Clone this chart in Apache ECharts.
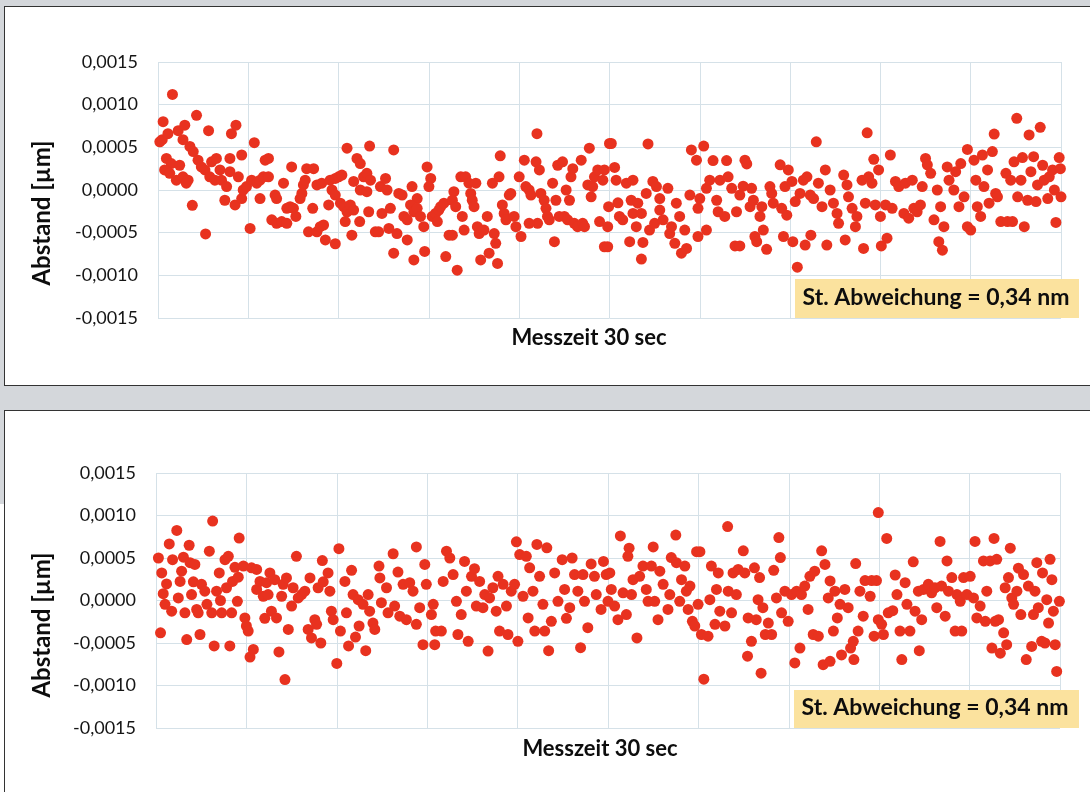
<!DOCTYPE html>
<html>
<head>
<meta charset="utf-8">
<script src="https://cdn.jsdelivr.net/npm/echarts@6/dist/echarts.min.js"></script>
<style>
  body { margin: 0; background: #d4d7db; }
  .panel { position: absolute; background: #fff; border: 1px solid #333; }
  #main { position: absolute; left: 0; top: 0; width: 1090px; height: 792px; }
</style>
</head>
<body>
<div class="panel" style="left:4px;top:6px;width:1100px;height:378px;"></div>
<div class="panel" style="left:4px;top:410px;width:1100px;height:400px;"></div>
<div style="position:absolute;left:0;top:504px;width:4px;height:288px;background:#fff;"></div>
<div id="main"></div>
<script>
// Messzeit (s), Abstand (µm) - oberes Diagramm
var topPoints = [
  [0.48,0.00112],[0.17,0.0008],[0.06,0.000565],[0.14,0.00059],[0.33,0.00066],[0.67,0.000695],[0.89,0.00076],[1.28,0.000875],[0.83,0.00059],[1.06,0.00051],
  [1.17,0.00045],[0.28,0.00037],[0.44,0.00031],[0.72,0.00029],[0.22,0.000235],[0.39,0.000195],[0.61,0.000115],[0.83,0.000155],[1.0,0.000115],[0.94,0.00008],
  [1.14,-0.00018],[1.58,-0.000515],[1.68,0.000695],[1.33,0.00035],[1.44,0.00027],[1.56,0.000235],[1.78,0.00033],[1.94,0.00037],[1.72,0.000155],[1.89,0.000115],
  [2.06,0.000235],[2.11,0.000115],[2.28,0.00004],[2.22,-0.00012],[2.39,0.00037],[2.44,0.00066],[2.59,0.00076],[2.78,0.00041],[2.39,0.000215],[2.67,0.000155],
  [2.56,-0.000175],[2.78,-0.0001],[2.83,0],[2.94,0.00004],[3.06,-0.00045],[3.2,0.000555],[3.11,0.000115],[3.28,0.00008],[3.39,0.000115],[3.56,0.00035],
  [3.67,0.00037],[3.5,0.000155],[3.67,0.000155],[3.39,-0.0001],[3.89,-0.00006],[3.94,-0.0001],[4.17,0.00008],[3.78,-0.00035],[3.94,-0.00039],[4.11,-0.00037],
  [4.28,-0.00039],[4.28,-0.000215],[4.39,-0.000195],[4.5,-0.000215],[4.44,0.00027],[4.58,-0.00031],[4.94,0.00025],[5.17,0.00025],[4.83,0.00006],[4.89,0.000115],
  [4.78,-0.00004],[4.72,-0.0001],[5.14,-0.000215],[5.0,-0.00049],[5.28,-0.00049],[5.39,-0.00043],[5.5,-0.00041],[5.56,-0.000585],[5.28,0.00006],[5.44,0.00008],
  [5.67,-0.000175],[5.72,0.000115],[5.89,0.000135],[6.0,0.000155],[6.11,0.000175],[5.78,0],[5.89,-0.00006],[6.06,-0.000155],[6.17,-0.000195],[6.28,-0.000255],
  [6.39,-0.000175],[6.5,-0.000235],[6.22,-0.00037],[6.44,-0.00053],[5.89,-0.00063],[6.28,0.00049],[6.5,0.0001],[6.61,0.00037],[6.72,0.00031],[6.83,0.000155],
  [6.94,0.000195],[7.06,0.000115],[6.72,0],[6.94,-0.00002],[7.03,0.000515],[7.0,-0.000255],[6.7,-0.00037],[7.22,-0.00049],[7.33,-0.00049],[7.44,-0.000275],
  [7.39,0.00004],[7.56,0.000135],[7.61,0],[7.83,0.00047],[7.72,-0.000215],[7.67,-0.00045],[7.94,-0.00051],[7.83,-0.00074],[8.0,-0.00004],[8.11,-0.00006],
  [8.28,-0.000585],[8.44,0.00004],[8.5,-0.00082],[8.61,-0.0001],[8.39,-0.000175],[8.5,-0.000255],[8.61,-0.000215],[8.72,-0.00031],[8.17,-0.00031],[8.28,-0.00035],
  [8.83,-0.00043],[8.86,-0.00072],[8.94,0.00027],[9.06,0.000135],[9.0,0.00004],[9.11,-0.00031],[9.22,-0.000275],[9.33,-0.000235],[9.39,-0.000195],[9.5,-0.000155],
  [9.28,-0.00037],[9.56,-0.00078],[9.67,-0.00053],[9.78,-0.00053],[9.83,-0.00002],[9.78,-0.00012],[9.89,-0.000195],[9.94,-0.00094],[10.06,0.000155],[10.22,0.000155],
  [10.11,-0.00031],[10.17,-0.00047],[10.33,0.00008],[10.39,-0.00004],[10.44,-0.00012],[10.5,-0.000195],[10.56,0.00008],[10.61,-0.00043],[10.67,-0.00051],[10.72,-0.00082],
  [10.83,-0.00047],[10.94,-0.00031],[11.0,-0.00074],[11.11,0.00008],[11.17,-0.00051],[11.22,-0.000625],[11.28,-0.00086],[11.33,0.000155],[11.37,0.0004],[11.44,-0.000175],
  [11.5,-0.000275],[11.56,-0.00035],[11.67,-0.00006],[11.72,-0.00004],[11.83,-0.00031],[11.89,-0.00043],[12.0,0.000155],[12.06,-0.000545],[12.17,0.00035],[12.22,0.00004],
  [12.33,0],[12.39,-0.00006],[12.56,0.00033],[12.59,0.00066],[12.67,0.000235],[12.72,-0.00004],[12.83,-0.00012],[12.89,-0.000215],[12.94,-0.00031],[13.0,-0.00035],
  [12.61,-0.00039],[12.33,-0.00039],[13.11,0.00008],[13.17,-0.000605],[13.22,-0.00012],[13.28,0.00029],[13.44,0.00033],[13.33,-0.00031],[13.5,-0.00031],[13.56,0],
  [13.61,-0.00035],[13.67,-0.00012],[13.72,0.000155],[13.78,0.00025],[13.83,-0.00039],[13.94,-0.00043],[14.06,0.00035],[14.11,-0.00039],[14.17,-0.00043],[14.28,0.00006],
  [14.33,0.00049],[14.39,-0.00008],[14.44,0.00004],[14.5,0.000155],[14.61,0.000235],[14.67,-0.00037],[14.78,0.000115],[14.83,0.000235],[14.83,-0.000665],[14.94,-0.000665],
  [14.97,-0.000195],[15.0,0.000545],[14.94,-0.00043],
  [15.06,0.000545],[15.17,0.000265],[15.22,0.000115],[15.28,-0.00015],[15.33,-0.00031],[15.44,-0.00035],[15.56,0.00008],[15.78,0.000115],[15.67,-0.000605],[15.72,-0.00012],
  [15.78,-0.000275],[15.89,-0.00043],[15.94,-0.000155],[16.06,-0.000275],[16.06,-0.00081],[16.11,-0.000615],[16.28,0.00054],[16.22,-0.00004],[16.33,-0.00047],[16.44,0.0001],
  [16.5,-0.00039],[16.56,0.00004],[16.67,-0.0001],[16.67,-0.000235],[16.78,-0.00035],[16.94,0.00002],[17.0,-0.00051],[17.06,-0.00043],[17.17,-0.000625],[17.22,-0.000155],
  [17.33,-0.00031],[17.39,-0.00074],[17.5,-0.00047],[17.56,-0.000685],[17.67,-0.00006],[17.72,0.00047],[17.89,0.00035],[18.13,0.000515],[17.94,-0.000215],[17.94,-0.000545],
  [18.0,-0.0001],[18.22,-0.00047],[18.22,0.00002],[18.33,0.000115],[18.44,0.000345],[18.56,-0.00012],[18.61,-0.000255],[18.67,0.000115],[18.83,-0.00031],[18.89,0.000345],
  [18.94,0.000155],[19.06,0.00002],[19.17,-0.000655],[19.33,-0.000655],[19.22,-0.000255],[19.33,-0.00006],[19.44,0.000045],[19.5,0.00035],[19.56,0.000305],[19.67,-0.000195],
  [19.72,0.00002],[19.78,-0.00012],[19.83,-0.000545],[19.89,-0.000605],[20.0,-0.00031],[20.06,-0.000195],[20.11,-0.00047],[20.22,-0.000695],[20.33,0.00004],[20.39,-0.00004],
  [20.44,-0.000155],[20.67,0.000295],[20.72,-0.000215],[20.78,-0.000545],[20.83,0.00004],[20.89,-0.000295],[20.94,0.000235],[21.06,0.0001],[21.09,-0.000605],[21.17,-0.000135],
  [21.24,-0.000905],[21.33,-0.00004],[21.44,0.000115],[21.5,-0.000645],[21.56,0.000155],[21.67,-0.00006],[21.69,-0.00053],[21.78,-0.0001],[21.87,0.000565],[21.94,0.00008],
  [22.06,-0.000195],[22.17,0.000235],[22.22,-0.000645],[22.33,0],[22.44,-0.000155],[22.56,-0.000275],[22.61,-0.00039],[22.78,0.000175],[22.83,-0.000585],[22.89,0.00006],
  [22.94,-0.00008],[23.06,-0.000215],[23.17,-0.00043],[23.22,-0.00031],[23.39,0.000115],[23.44,-0.000685],[23.5,-0.000155],[23.56,0.00067],[23.61,0.000155],[23.72,0.00008],
  [23.78,0.00036],[23.83,-0.000175],[23.94,0.000235],[24.0,-0.00031],[24.03,-0.000655],[24.17,-0.000175],[24.22,-0.000565],[24.33,0.00041],[24.39,-0.000215],[24.5,0.0001],
  [24.61,0.00004],[24.78,-0.000275],[24.83,0.00008],[24.94,-0.00033],[25.06,0.000115],[25.11,-0.000215],[25.22,-0.000255],[25.33,-0.000175],[25.39,0.00004],[25.5,0.00037],
  [25.56,0.000295],[25.67,0.000195],[25.78,-0.00035],[25.89,0],[25.94,-0.000605],[26.06,-0.000705],[26.0,-0.000195],[26.11,-0.00043],[26.22,0.00027],[26.28,0.000115],
  [26.44,0],[26.5,0.000215],[26.61,-0.000195],[26.67,0.00031],[26.78,-0.00008],[26.89,0.000475],[26.89,-0.00043],[27.0,-0.00047],[27.11,0.00035],[27.17,0.000115],
  [27.22,-0.000195],[27.33,-0.00031],[27.39,0.00041],[27.44,0.00004],[27.56,0.000235],[27.61,-0.000155],[27.72,0.00045],[27.78,0.000655],[27.83,-0.00004],[27.89,-0.00008],
  [28.0,-0.00037],[28.17,0.000195],[28.22,-0.00037],[28.33,0.000115],[28.39,-0.00037],[28.44,0.00033],[28.53,0.00084],[28.56,-0.00008],[28.67,0.000115],[28.72,0.00038],
  [28.78,-0.00043],[28.89,-0.00012],[28.94,0.000645],[29.0,0.000215],[29.09,0.00039],[29.17,-0.000135],[29.22,0.00006],[29.31,0.000735],[29.39,0.00029],[29.44,0.000115],
  [29.56,-0.0001],[29.61,0.000155],[29.72,0.000235],[29.78,0],[29.83,-0.00038],[29.94,0.00038],[29.98,0.00025],[30.0,-0.00008]
];

// Messzeit (s), Abstand (µm) - unteres Diagramm
var bottomPoints = [
  [0.08,0.0005],[0.19,0.000325],[0.35,0.000195],[0.24,0.00008],[0.3,-0.000045],[0.15,-0.00038],[0.44,0.000665],[0.55,0.00048],[0.69,0.000825],[0.74,0.00003],
  [0.8,0.000225],[0.85,0.000345],[0.91,0.00051],[0.52,-0.000125],[0.96,-0.000145],[1.02,-0.00046],[1.1,0.00065],[1.13,0.000445],[1.18,0.00007],[1.24,0.00022],
  [1.29,0.000425],[1.35,-0.000105],[1.46,-0.0004],[1.4,-0.000145],[1.51,0.00019],[1.62,0.00011],[1.69,-0.000045],[1.77,0.00058],[1.85,-0.000145],[1.88,0.000935],
  [1.93,-0.000535],[2.01,0.00011],[2.1,0.000325],[2.14,0],[2.18,-0.000145],[2.29,0.00048],[2.4,0.00052],[2.34,0.00015],[2.45,-0.000535],[2.51,-0.000145],
  [2.54,0.000225],[2.62,0.00039],[2.7,-0.00001],[2.73,0.000275],[2.76,0.000735],[2.9,0.000405],[2.95,-0.000205],[3.0,-0.0003],[3.06,-0.00036],[3.12,-0.000665],
  [3.23,-0.000575],[3.17,0.000385],[3.34,0.000365],[3.34,0.00013],[3.45,0.000225],[3.56,0.00005],[3.61,-0.00021],[3.67,0.00021],[3.72,0.00007],[3.78,0.000325],
  [3.83,-0.000125],[3.94,0.000245],[4.0,-0.000205],[4.08,-0.000605],[4.17,0.00005],[4.22,0.00019],[4.28,-0.00093],[4.33,0.000265],[4.39,-0.00034],[4.5,-0.000065],
  [4.55,0.00015],[4.66,0.00052],[4.72,0.00003],[4.83,0.00007],[4.94,0.00011],[5.05,-0.00034],[5.11,0.000265],[5.16,-0.00044],[5.27,-0.000225],[5.33,-0.00028],
  [5.38,0.00015],[5.47,-0.0005],[5.52,0.00047],[5.55,0.00022],[5.71,0.000325],[5.77,0.00011],[5.82,-0.000125],[5.88,-0.000225],[6.0,-0.00074],[6.07,0.00061],
  [6.12,-0.00036],[6.27,0.000225],[6.32,-0.000145],[6.39,-0.000535],[6.49,0.000355],[6.54,0.00007],[6.62,-0.00043],[6.71,0.00001],[6.74,-0.0003],[6.87,-0.000045],
  [6.96,-0.00059],[7.04,0.00007],[7.09,-0.000125],[7.2,-0.000265],[7.26,-0.00034],[7.4,0.000405],[7.43,0.000265],[7.48,-0.000025],[7.65,0.00015],[7.7,-0.000145],
  [7.87,0.00055],[7.92,-0.000065],[8.03,0.000335],[8.09,-0.000185],[8.2,0.00019],[8.31,-0.000225],[8.42,0.00021],[8.53,0.00011],[8.64,0.00063],[8.64,-0.00028],
  [8.75,-0.000085],[8.86,-0.00052],[8.92,0.000425],[8.97,0.00019],[9.14,-0.000165],[9.2,-0.000045],[9.25,-0.00052],[9.28,-0.00036],[9.47,-0.00036],[9.53,0.000225],
  [9.64,0.00058],[9.75,0.0005],[9.86,0.000305],[9.97,-0.00001],[10.02,-0.0004],[10.13,-0.000165],[10.24,0.00046],[10.3,0.00011],[10.36,-0.00048],[10.47,0.000285],
  [10.57,0.000375],[10.63,-0.000065],[10.74,0.000225],[10.85,-0.000085],[10.91,0.00007],[11.02,-0.000595],[11.07,0.00003],[11.18,0.00015],[11.29,-0.000125],[11.35,0.000285],
  [11.4,-0.00036],[11.52,0.00019],[11.63,-0.000065],[11.68,-0.0004],[11.79,0.00011],[11.9,0.00019],[11.96,0.00069],[12.01,-0.00048],[12.07,0.00054],[12.18,0.00005],
  [12.29,0.00052],[12.35,-0.000205],[12.4,0.000385],[12.51,0.00011],[12.57,-0.00036],[12.64,0.00066],[12.73,0.000285],[12.84,-0.000045],[12.9,-0.00036],[12.97,0.00062],
  [13.03,-0.00059],[13.12,-0.000245],[13.23,0.000325],[13.34,-0.00001],[13.48,0.00048],[13.56,0.00013],[13.62,-0.00021],[13.73,-0.000085],[13.81,0.0005],[13.89,0.000305],
  [14.0,0.00011],[14.09,-0.000555],[14.17,0.000305],[14.22,-0.00001],[14.33,-0.00032],[14.44,0.00043],[14.55,0.000285],[14.61,0.00007],[14.77,-0.000105],[14.85,0.00046],
  [14.94,0.000305],[15.0,-0.00001],
  [15.11,0.00013],[15.06,0.000325],[15.22,-0.000065],[15.33,-0.000225],[15.41,0.00076],[15.5,0.00009],[15.61,-0.000165],[15.7,0.000615],[15.66,0.00052],[15.78,0.00007],
  [15.83,0.000245],[15.96,-0.00044],[16.05,0.000285],[16.16,0.000405],[16.27,0.00013],[16.33,-0.00001],[16.44,0.000405],[16.5,0.00063],[16.55,-0.00001],[16.66,-0.000225],
  [16.72,0.000345],[16.83,0.00019],[16.99,-0.000105],[17.05,0.00007],[17.1,0.000505],[17.25,0.00077],[17.27,0.000445],[17.38,-0.00001],[17.44,0.000245],[17.55,0.000405],
  [17.6,0.00011],[17.66,-0.000105],[17.72,0.00017],[17.8,-0.000245],[17.88,-0.0003],[17.94,0.000575],[18.05,0.000575],[17.99,-0.000045],[18.1,-0.0004],[18.18,-0.000925],
  [18.32,-0.00042],[18.38,0.00001],[18.43,0.000405],[18.55,-0.00028],[18.6,0.00013],[18.66,0.000325],[18.71,-0.000125],[18.88,-0.0003],[18.97,0.00087],[18.99,0.00011],
  [19.1,-0.000145],[19.15,0.000325],[19.26,0.00007],[19.32,0.000365],[19.49,0.000585],[19.54,0.000325],[19.63,-0.000655],[19.65,-0.000205],[19.76,-0.00048],[19.86,0.000385],
  [19.92,-0.000225],[19.98,0.00001],[20.03,0.00027],[20.08,-0.000855],[20.14,-0.000085],[20.22,-0.0004],[20.32,-0.000265],[20.43,-0.0004],[20.5,0.000355],[20.59,0.00003],
  [20.67,0.00074],[20.72,0.000505],[20.76,-0.000145],[20.87,0.00011],[20.98,-0.000245],[21.09,0.00007],[21.2,-0.000735],[21.26,0.00011],[21.37,-0.00056],[21.42,0.00007],
  [21.53,0.00017],[21.64,-0.000105],[21.7,0.000285],[21.81,-0.0004],[21.86,0.000345],[21.98,-0.00042],[22.09,0.000585],[22.14,-0.000755],[22.2,0.000425],[22.31,0.00003],
  [22.37,-0.000715],[22.37,0.00023],[22.48,-0.00036],[22.53,0.00011],[22.61,-0.000205],[22.7,-0.000045],[22.75,-0.00064],[22.86,0.00013],[22.97,-0.000085],[23.05,-0.00056],
  [23.14,-0.00048],[23.16,-0.000695],[23.22,0.000435],[23.3,-0.00036],[23.36,0.00011],[23.47,-0.000185],[23.53,0.000235],[23.7,0.00005],[23.75,0.000235],[23.83,-0.00042],
  [23.91,0.000235],[23.97,-0.000225],[23.97,0.001035],[24.08,-0.00028],[24.14,-0.0004],[24.25,0.00073],[24.3,-0.000145],[24.45,-0.00012],[24.53,0.0003],[24.59,0.00007],
  [24.69,-0.00036],[24.75,-0.000695],[24.86,0.00021],[24.92,-0.000045],[25.02,-0.00036],[25.13,0.000455],[25.19,-0.000125],[25.3,0.00011],[25.33,-0.00059],[25.41,-0.000225],
  [25.47,0.00013],[25.63,0.00019],[25.74,0.00009],[25.85,0.00015],[25.91,-0.000085],[26.02,0.000695],[26.07,0.00017],[26.19,-0.000185],[26.25,0.000465],[26.3,0.00011],
  [26.41,0.00027],[26.52,-0.00036],[26.58,0.00007],[26.69,-0.00001],[26.74,-0.00036],[26.8,0.00027],[26.91,0.00007],[27.02,0.000285],[27.13,0.00003],[27.18,0.000695],
  [27.24,-0.000205],[27.35,-0.000065],[27.46,0.000465],[27.52,-0.000245],[27.57,0.00011],[27.68,0.000465],[27.74,-0.00056],[27.81,0.00073],[27.85,-0.000245],[27.9,0.000485],
  [27.96,-0.000225],[28.02,-0.00062],[28.13,-0.00038],[28.18,0.00015],[28.23,-0.00052],[28.29,0.00027],[28.35,0.000615],[28.4,0.00003],[28.46,-0.000045],[28.57,0.00011],
  [28.62,0.00038],[28.7,-0.000165],[28.79,0.000305],[28.88,-0.000695],[28.95,0.00017],[29.06,-0.00054],[29.12,-0.000165],[29.17,0.00011],[29.23,0.000445],[29.28,-0.000085],
  [29.39,-0.00048],[29.42,0.000325],[29.5,-0.0005],[29.56,0.00001],[29.62,-0.000265],[29.67,0.000485],[29.73,0.000245],[29.78,-0.000125],[29.84,-0.00052],[29.89,-0.000835],
  [29.98,-0.00001]
];

var yMin = -0.0015, yMax = 0.0015, yStep = 0.0005;
var xMin = 0, xMax = 30, xStep = 3;
var yTitle = 'Abstand [µm]';
var xTitle = 'Messzeit 30 sec';
var noteText = 'St. Abweichung = 0,34 nm';

var gridColor = '#d5e1e8';
var dotColor = '#e8321f';

function fmt(v) {
  return v.toFixed(4).replace('.', ',');
}

function xAx(i) {
  return {
    gridIndex: i, type: 'value', min: xMin, max: xMax, interval: xStep,
    axisLabel: { show: false }, axisTick: { show: false }, axisLine: { show: false },
    splitLine: { lineStyle: { color: gridColor, width: 1 } }
  };
}
function yAx(i) {
  return {
    gridIndex: i, type: 'value', min: yMin, max: yMax, interval: yStep,
    axisTick: { show: false }, axisLine: { show: false },
    axisLabel: { formatter: fmt, fontFamily: 'Lato', fontSize: 18, color: '#151515', margin: 20 },
    splitLine: { lineStyle: { color: gridColor, width: 1 } }
  };
}
function txt(x, y, s, size, rot) {
  return {
    type: 'text', x: x, y: y, rotation: rot || 0, z: 20,
    style: { text: s, font: 'bold ' + size + 'px Lato', fill: '#0d0d0d', align: 'center', verticalAlign: 'middle' }
  };
}
function box(x, y, w, h) {
  return { type: 'rect', z: 10, shape: { x: x, y: y, width: w, height: h }, style: { fill: '#fbe29e' } };
}

var chart = echarts.init(document.getElementById('main'));
chart.setOption({
  animation: false,
  grid: [
    { left: 158, top: 62, width: 903, height: 256 },
    { left: 156, top: 473, width: 904, height: 255 }
  ],
  xAxis: [xAx(0), xAx(1)],
  yAxis: [yAx(0), yAx(1)],
  series: [
    { type: 'scatter', xAxisIndex: 0, yAxisIndex: 0, data: topPoints, symbolSize: 11, itemStyle: { color: dotColor, opacity: 1 } },
    { type: 'scatter', xAxisIndex: 1, yAxisIndex: 1, data: bottomPoints, symbolSize: 11, itemStyle: { color: dotColor, opacity: 1 } }
  ],
  graphic: [
    txt(42, 213, yTitle, 24, Math.PI / 2),
    txt(42, 625, yTitle, 24, Math.PI / 2),
    txt(589, 338, xTitle, 22),
    txt(600, 749, xTitle, 22),
    box(795, 279, 284, 39),
    txt(936, 298, noteText, 23),
    box(794, 690, 285, 38),
    txt(935, 708, noteText, 23)
  ]
});
</script>
</body>
</html>
